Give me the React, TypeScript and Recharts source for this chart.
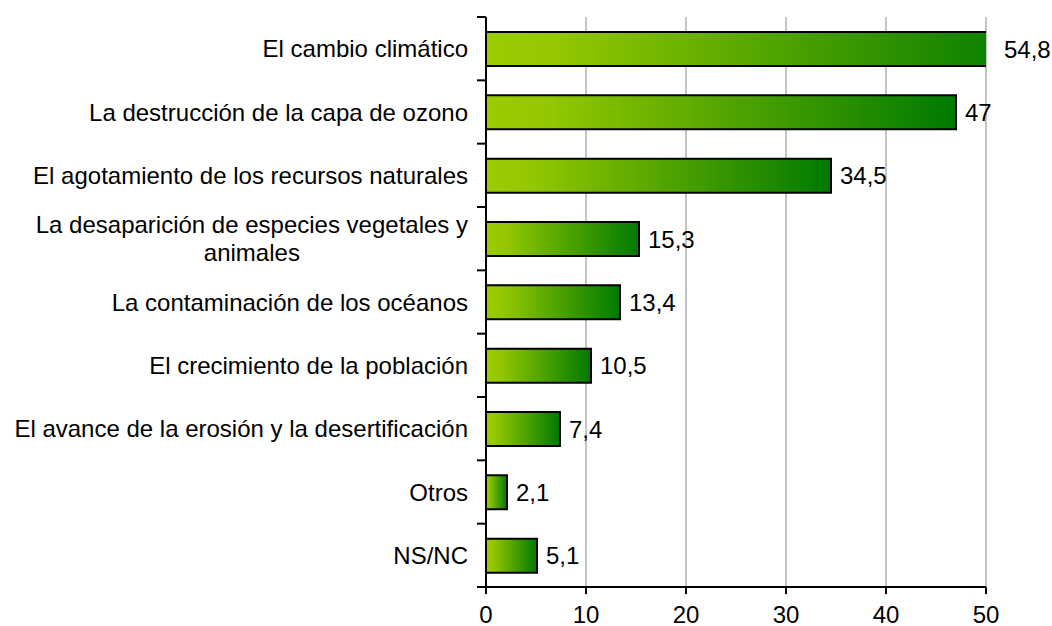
import React from 'react'
import { BarChart, Bar, XAxis, YAxis, CartesianGrid, LabelList } from 'recharts'

// datos del gráfico
const categories = [
  'El cambio climático',
  'La destrucción de la capa de ozono',
  'El agotamiento de los recursos naturales',
  'La desaparición de especies vegetales y\nanimales',
  'La contaminación de los océanos',
  'El crecimiento de la población',
  'El avance de la erosión y la desertificación',
  'Otros',
  'NS/NC',
]
const values = [54.8, 47, 34.5, 15.3, 13.4, 10.5, 7.4, 2.1, 5.1]
const xTicks = [0, 10, 20, 30, 40, 50]

const data = categories.map((name, i) => ({ name, value: values[i] }))

const W = 1052
const H = 626
const MARGIN = { top: 17, right: 66, bottom: 0, left: 0 }
const Y_AXIS_W = 486
const X_AXIS_H = 39
const PLOT_RIGHT = W - MARGIN.right
const PLOT_H = H - MARGIN.top - MARGIN.bottom - X_AXIS_H
const FONT = "'Liberation Sans', Arial, sans-serif"
const FS = 24
const LINE_H = 28

let ctx: CanvasRenderingContext2D | null = null
function textWidth(s: string) {
  if (!ctx) {
    ctx = document.createElement('canvas').getContext('2d')
    if (ctx) ctx.font = `${FS}px 'Liberation Sans'`
  }
  return ctx ? ctx.measureText(s).width : s.length * FS * 0.5
}

function CategoryTick(props: any) {
  const { x, y, payload, index } = props
  const axisX = Y_AXIS_W + MARGIN.left
  const half = payload?.offset || PLOT_H / categories.length / 2
  const lines = String(payload.value).split('\n')
  const maxW = Math.max(...lines.map(textWidth))
  const multi = lines.length > 1
  return (
    <g>
      <line x1={axisX - 9} x2={axisX} y1={y - half} y2={y - half} stroke="#000" strokeWidth={2} />
      {index === categories.length - 1 && (
        <line x1={axisX - 9} x2={axisX} y1={y + half} y2={y + half} stroke="#000" strokeWidth={2} />
      )}
      {lines.map((l, i) => (
        <text
          key={i}
          x={multi ? x - maxW / 2 : x}
          y={y + (i - (lines.length - 1) / 2) * LINE_H}
          dy="0.355em"
          textAnchor={multi ? 'middle' : 'end'}
          fill="#000"
          fontSize={FS}
          fontFamily={FONT}
        >
          {l}
        </text>
      ))}
    </g>
  )
}

// la barra que pasa de 50 se corta en el borde del área de trazado
function ValueLabel(props: any) {
  const { x, y, width, height, value } = props
  const end = Math.min(x + width, PLOT_RIGHT + 9)
  return (
    <text x={end + 9} y={y + height / 2} dy="0.355em" fill="#000" fontSize={FS} fontFamily={FONT}>
      {String(value).replace('.', ',')}
    </text>
  )
}

export default function App() {
  return (
    <>
      <style>{'body { margin: 0; overflow: hidden; } svg.recharts-surface { overflow: visible; }'}</style>
      <BarChart width={W} height={H} data={data} layout="vertical" margin={MARGIN} barSize={34}>
        <defs>
          <linearGradient id="barGrad" x1="0" y1="0" x2="1" y2="0">
            <stop offset="0%" stopColor="#99CC00" />
            <stop offset="12%" stopColor="#95C800" />
            <stop offset="100%" stopColor="#007A00" />
          </linearGradient>
        </defs>
        <CartesianGrid horizontal={false} stroke="#C4C4C4" strokeWidth={2} />
        <Bar dataKey="value" fill="url(#barGrad)" stroke="#000" strokeWidth={2} isAnimationActive={false}>
          <LabelList dataKey="value" content={ValueLabel} />
        </Bar>
        <XAxis
          type="number"
          domain={[0, 50]}
          ticks={xTicks}
          allowDataOverflow
          height={X_AXIS_H}
          axisLine={{ stroke: '#000', strokeWidth: 2 }}
          tickLine={{ stroke: '#000', strokeWidth: 2 }}
          tickSize={7}
          tickMargin={12}
          tick={{ fill: '#000', fontSize: FS, fontFamily: FONT }}
        />
        <YAxis
          type="category"
          dataKey="name"
          width={Y_AXIS_W}
          interval={0}
          axisLine={{ stroke: '#000', strokeWidth: 2 }}
          tickLine={false}
          tickSize={8}
          tickMargin={10}
          tick={CategoryTick}
        />
      </BarChart>
    </>
  )
}
